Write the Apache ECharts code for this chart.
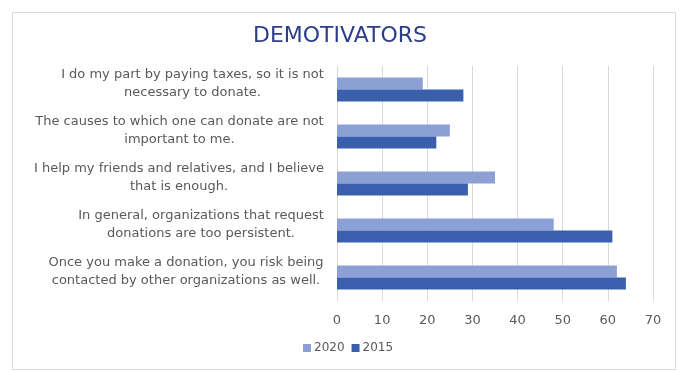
<!DOCTYPE html>
<html>
<head>
<meta charset="utf-8">
<script src="https://cdn.jsdelivr.net/npm/echarts@6/dist/echarts.min.js"></script>
<style>
  html, body { margin: 0; padding: 0; background: #fff; }
  #chart { width: 680px; height: 372px; }
</style>
</head>
<body>
<div id="chart"></div>
<script>
// Statements, listed from bottom to top of the chart
const categories = [
  'Once you make a donation, you risk being\ncontacted by other organizations as well.',
  'In general, organizations that request\ndonations are too persistent.',
  'I help my friends and relatives, and I believe\nthat is enough.',
  'The causes to which one can donate are not\nimportant to me.',
  'I do my part by paying taxes, so it is not\nnecessary to donate.'
];
const values2020 = [62, 48, 35, 25, 19];
const values2015 = [64, 61, 29, 22, 28];
const seriesNames = ['2020', '2015'];
const xTicks = [0, 10, 20, 30, 40, 50, 60, 70];

const FONT = 'DejaVu Sans';
const LABEL_SIZE = 13;
const LABEL_COLOR = '#595959';

// Each label is right-aligned as a block, with its lines centred inside it:
// one rich style per label whose width is that label's longest line.
const measureCtx = document.createElement('canvas').getContext('2d');
measureCtx.font = LABEL_SIZE + 'px "' + FONT + '"';
const labelRich = {
  sp: { fontSize: 4, lineHeight: 11 }
};
categories.forEach(function (cat, i) {
  const w = Math.max.apply(null, cat.split('\n').map(function (s) {
    return measureCtx.measureText(s).width;
  }));
  labelRich['l' + i] = {
    width: Math.ceil(w), align: 'center',
    fontFamily: FONT, fontSize: LABEL_SIZE, color: LABEL_COLOR, lineHeight: 18
  };
});

const chart = echarts.init(document.getElementById('chart'));
chart.setOption({
  animation: false,
  textStyle: { fontFamily: FONT },
  graphic: [{
    type: 'rect',
    shape: { x: 12.5, y: 12.5, width: 663, height: 357 },
    style: { fill: 'none', stroke: '#d9d9d9', lineWidth: 1 },
    silent: true
  }],
  title: {
    text: 'DEMOTIVATORS',
    left: 'center',
    top: 20,
    textStyle: { fontFamily: FONT, fontSize: 22, fontWeight: 'normal', color: '#2c3d8a' }
  },
  legend: {
    data: seriesNames,
    bottom: 13,
    left: 298,
    itemWidth: 8,
    itemHeight: 8,
    itemGap: 7,
    icon: 'rect',
    textStyle: { fontFamily: FONT, fontSize: 12, color: '#595959', padding: [0, 0, 0, -2] }
  },
  grid: { left: 337, right: 27, top: 66, bottom: 71, containLabel: false },
  xAxis: {
    type: 'value',
    min: xTicks[0],
    max: xTicks[xTicks.length - 1],
    interval: 10,
    axisLine: { show: false },
    axisTick: { show: false },
    axisLabel: { fontFamily: FONT, fontSize: 13, color: '#595959', margin: 13 },
    splitLine: { lineStyle: { color: '#d9d9d9', width: 1 } }
  },
  yAxis: {
    type: 'category',
    data: categories,
    axisLine: { show: false },
    axisTick: { show: false },
    axisLabel: {
      align: 'right',
      margin: 13,
      formatter: function (value) {
        const key = 'l' + categories.indexOf(value);
        return value.split('\n').map(function (line) {
          return '{' + key + '|' + line + '}';
        }).join('\n') + '\n{sp| }';
      },
      rich: labelRich
    }
  },
  series: [
    {
      name: '2020', type: 'bar', data: values2020, barWidth: 12, barGap: '0%',
      itemStyle: { color: '#8ca0d5' }
    },
    {
      name: '2015', type: 'bar', data: values2015, barWidth: 12, barGap: '0%',
      itemStyle: { color: '#3a60ad' }
    }
  ]
});
</script>
</body>
</html>
